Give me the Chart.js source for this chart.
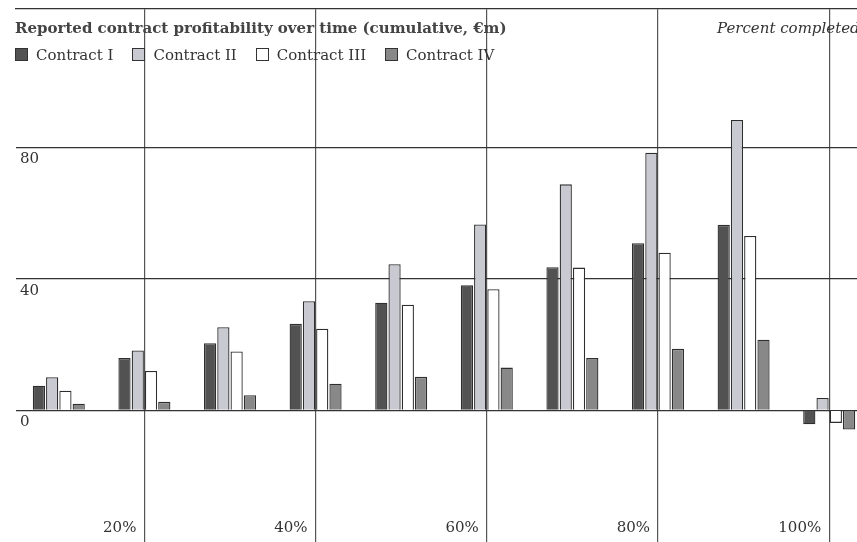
<!DOCTYPE html>
<html>
<head>
<meta charset="utf-8">
<script src="https://cdn.jsdelivr.net/npm/chart.js@4.4.1/dist/chart.umd.min.js"></script>
<style>
  html, body { margin: 0; padding: 0; background: #fff; overflow: hidden; }
  #wrap { position: relative; width: 880px; height: 542px; }
  #title {
    position: absolute; left: 15px; top: 19px;
    font: bold 15px "DejaVu Serif", serif; color: #444; white-space: nowrap;
  }
  #sub {
    position: absolute; left: 717px; top: 19px;
    font: italic 15px "DejaVu Serif", serif; color: #333; white-space: nowrap;
  }
  #legend {
    position: absolute; left: 15px; top: 46px;
    font: 15px "DejaVu Serif", serif; color: #333; white-space: nowrap;
  }
  #legend span.item { margin-right: 19px; }
  #legend span.box {
    display: inline-block; width: 11px; height: 11px; border: 1px solid #333;
    margin-right: 8px; vertical-align: -1px;
  }
</style>
</head>
<body>
<div id="wrap">
  <canvas id="myChart" width="880" height="542"></canvas>
  <div id="title">Reported contract profitability over time (cumulative, €m)</div>
  <div id="sub">Percent completed</div>
  <div id="legend"></div>
</div>
<script>
// data
const categories = ['10%', '20%', '30%', '40%', '50%', '60%', '70%', '80%', '90%', '100%'];
const xTickLabels = ['', '20%', '', '40%', '', '60%', '', '80%', '', '100%'];
const yTicks = [0, 40, 80];

const seriesNames = ['Contract I', 'Contract II', 'Contract III', 'Contract IV'];
const contractI = [7.5, 15.9, 20.4, 26.3, 32.7, 38, 43.5, 50.8, 56.4, -4.2];
const contractII = [10.1, 18.2, 25.3, 33.2, 44.4, 56.5, 68.7, 78.3, 88.3, 3.8];
const contractIII = [6, 12, 17.9, 24.8, 32.1, 36.8, 43.4, 47.9, 53, -3.8];
const contractIV = [2, 2.6, 4.6, 8.1, 10.2, 13, 15.9, 18.7, 21.5, -5.8];

const colors = ['#525252', '#c9c9d2', '#ffffff', '#888888'];

// legend
const legend = document.getElementById('legend');
seriesNames.forEach((name, i) => {
  const item = document.createElement('span');
  item.className = 'item';
  item.innerHTML = '<span class="box" style="background:' + colors[i] + '"></span>' + name;
  legend.appendChild(item);
});

// axis labels sit inside the plot area
const axisLabelsPlugin = {
  id: 'axisLabels',
  afterDraw(chart) {
    const ctx = chart.ctx;
    const xs = chart.scales.x;
    const ys = chart.scales.y;
    ctx.save();
    ctx.font = '15px "DejaVu Serif", serif';
    ctx.fillStyle = '#333';
    ctx.textBaseline = 'middle';
    ctx.textAlign = 'right';
    xTickLabels.forEach((lab, i) => {
      if (lab) ctx.fillText(lab, xs.getPixelForValue(i) - 8, 528);
    });
    ctx.textAlign = 'left';
    yTicks.forEach(v => {
      ctx.fillText(String(v), 20, ys.getPixelForValue(v) + 12);
    });
    ctx.restore();
  }
};

const ctx = document.getElementById('myChart');

new Chart(ctx, {
  type: 'bar',
  data: {
    labels: categories,
    datasets: [contractI, contractII, contractIII, contractIV].map((d, i) => ({
      label: seriesNames[i],
      data: d,
      backgroundColor: colors[i],
      borderColor: '#2e2e2e',
      borderWidth: 1.3,
      categoryPercentage: 0.62,
      barPercentage: 0.92
    }))
  },
  options: {
    responsive: false,
    animation: false,
    layout: { padding: { top: 9, left: 16, right: 8, bottom: 0 } },
    plugins: {
      legend: { display: false },
      tooltip: { enabled: false }
    },
    scales: {
      x: {
        position: 'top',
        ticks: { display: false },
        grid: {
          offset: false,
          drawTicks: false,
          lineWidth: 1.2,
          color: (c) => (c.index % 2 === 1 ? '#555' : 'rgba(0,0,0,0)')
        },
        border: { display: true, color: '#333', width: 1.2 }
      },
      y: {
        min: -40,
        max: 122,
        afterBuildTicks: (axis) => { axis.ticks = yTicks.map(v => ({ value: v })); },
        ticks: { display: false },
        grid: { drawTicks: false, color: '#333', lineWidth: 1.2 },
        border: { display: false }
      }
    }
  },
  plugins: [axisLabelsPlugin]
});
</script>
</body>
</html>
